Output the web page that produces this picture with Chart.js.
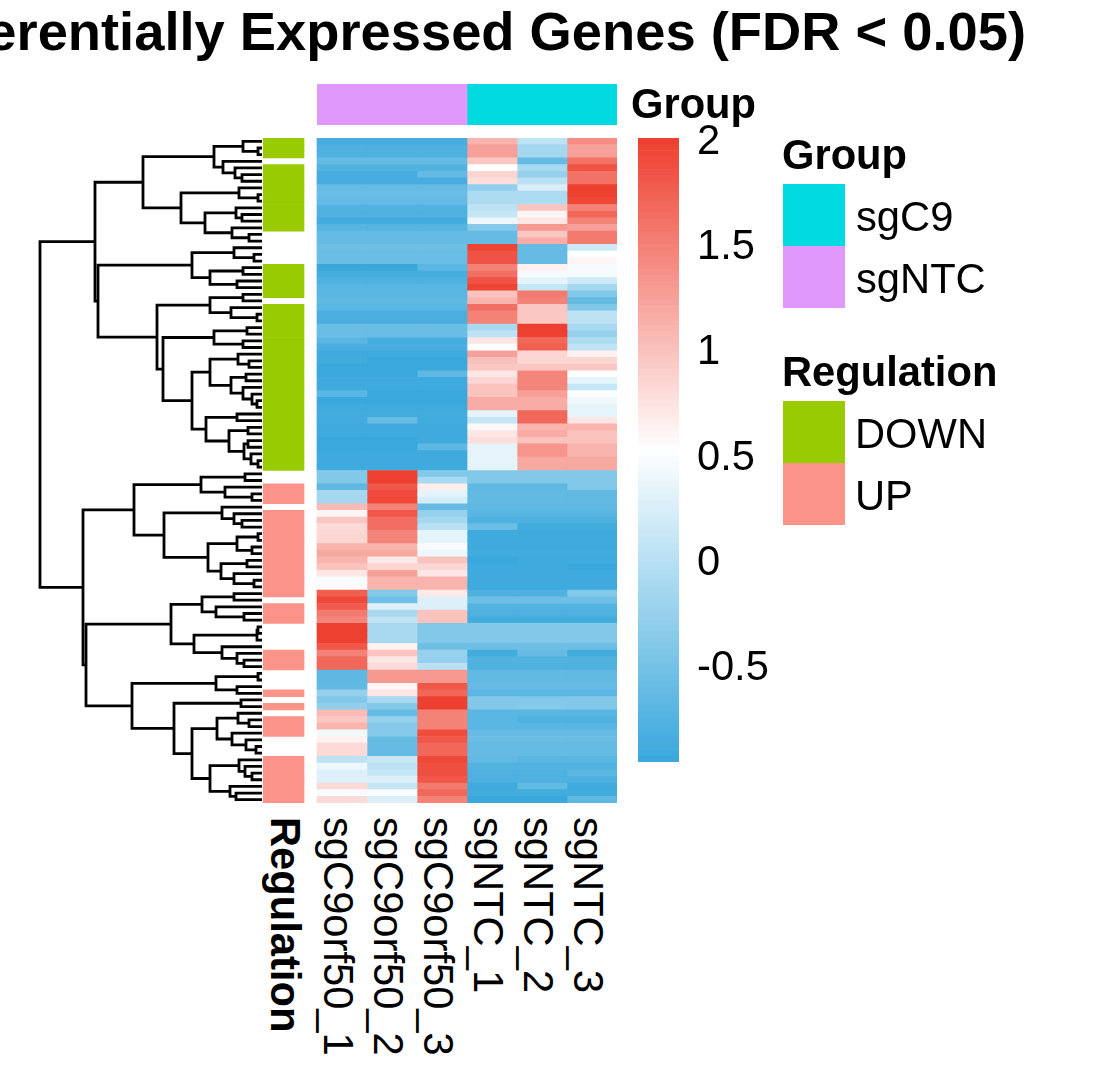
<!DOCTYPE html>
<html>
<head>
<meta charset="utf-8">
<title>Differentially Expressed Genes</title>
<script src="https://cdn.jsdelivr.net/npm/chart.js@4.4.1/dist/chart.umd.min.js"></script>
<style>
  html, body { margin: 0; padding: 0; background: #fff; }
  body { width: 1103px; height: 1084px; position: relative; overflow: hidden;
         font-family: "Liberation Sans", Arial, sans-serif; color: #000; }
  canvas, .txt, .box { position: absolute; }
  .txt { white-space: nowrap; font-size: 41.7px; line-height: 41.7px; }
  .bold { font-weight: bold; }
  .rot { transform-origin: 0 0; transform: rotate(90deg); }
</style>
</head>
<body>

<!-- title runs off the left edge of the page, as in the original figure -->
<div class="txt bold" style="right:77px; top:4.7px; font-size:54.3px; line-height:54.3px;">Differentially Expressed Genes (FDR &lt; 0.05)</div>

<canvas id="dendro" width="240" height="685" style="left:30px; top:128px; width:240px; height:685px;"></canvas>
<canvas id="annot" width="300" height="41" style="left:317px; top:84px; width:300px; height:41px;"></canvas>
<canvas id="heat" width="354" height="665" style="left:263px; top:138px; width:354px; height:665px;"></canvas>
<canvas id="cbar" width="161" height="708" style="left:638px; top:96px; width:161px; height:708px;"></canvas>

<div class="txt bold" style="left:631px; top:83px;">Group</div>

<!-- legends -->
<div class="txt bold" style="left:782px; top:134px;">Group</div>
<div class="box" style="left:783px; top:184px; width:62px; height:62px; background:#00DAE0;"></div>
<div class="box" style="left:783px; top:246px; width:62px; height:62px; background:#E099FA;"></div>
<div class="txt" style="left:856px; top:196.4px;">sgC9</div>
<div class="txt" style="left:856px; top:258px;">sgNTC</div>

<div class="txt bold" style="left:782px; top:351px;">Regulation</div>
<div class="box" style="left:783px; top:401px; width:62px; height:62px; background:#99CC00;"></div>
<div class="box" style="left:783px; top:463px; width:62px; height:62px; background:#FC9389;"></div>
<div class="txt" style="left:855px; top:413.4px;">DOWN</div>
<div class="txt" style="left:855px; top:475.4px;">UP</div>

<div id="collabels"></div>

<script>
// ---- data ----
var sampleNames = ['sgC9orf50_1', 'sgC9orf50_2', 'sgC9orf50_3', 'sgNTC_1', 'sgNTC_2', 'sgNTC_3'];
var sampleGroup = ['sgNTC', 'sgNTC', 'sgNTC', 'sgC9', 'sgC9', 'sgC9'];

// scaled expression, one value per row (rows in dendrogram order)
var valsC9_1 = [
  -0.85,-0.78,-0.78,-0.62,-0.75,-0.85,-0.85,-0.62,-0.6,-0.62,
  -0.77,-0.78,-0.87,-0.74,-0.62,-0.62,-0.55,-0.58,-0.58,-0.95,
  -0.86,-0.8,-0.7,-0.7,-0.68,-0.7,-0.83,-0.83,-0.58,-0.58,
  -0.7,-0.83,-0.9,-0.88,-0.93,-0.95,-0.9,-0.91,-0.7,-0.93,
  -0.91,-0.87,-0.87,-0.92,-0.92,-0.95,-0.95,-0.9,-0.9,-0.9,
  -0.4,-0.42,-0.68,-0.15,-0.15,1.05,0.6,0.95,0.8,0.85,
  0.85,1.1,1.18,1.1,1.0,0.72,0.48,0.53,1.75,1.94,
  1.8,1.55,1.45,2.0,2.0,2.0,1.83,1.5,1.7,1.7,
  -0.68,-0.68,-0.65,-0.25,-0.42,-0.3,1.05,0.95,1.1,0.42,
  0.62,0.8,0.8,0.05,0.4,0.28,0.28,0.8,0.48,0.8
];
var valsC9_2 = [
  -0.85,-0.78,-0.78,-0.62,-0.75,-0.85,-0.85,-0.62,-0.6,-0.62,
  -0.77,-0.78,-0.87,-0.74,-0.62,-0.62,-0.55,-0.58,-0.58,-0.95,
  -0.86,-0.8,-0.7,-0.7,-0.68,-0.7,-0.83,-0.83,-0.58,-0.58,
  -0.86,-0.83,-0.9,-0.97,-0.93,-0.95,-0.9,-0.91,-0.97,-0.93,
  -0.91,-0.87,-0.62,-0.92,-0.92,-0.95,-0.95,-0.9,-0.9,-0.9,
  2.0,2.0,1.83,1.92,1.95,1.5,1.83,1.65,1.65,1.45,
  1.45,1.1,1.18,0.7,0.83,1.25,1.1,1.1,-0.42,-0.55,
  0.27,-0.1,0.08,-0.1,-0.1,-0.1,0.62,1.0,0.72,0.8,
  1.32,1.32,0.6,0.72,-0.1,-0.4,-0.62,-0.25,-0.38,-0.38,
  -0.62,-0.62,-0.62,0.12,0.05,0.1,0.28,0.1,0.48,0.28
];
var valsC9_3 = [
  -0.85,-0.78,-0.78,-0.62,-0.75,-0.62,-0.85,-0.62,-0.6,-0.62,
  -0.77,-0.78,-0.87,-0.74,-0.62,-0.62,-0.55,-0.58,-0.58,-0.7,
  -0.86,-0.8,-0.7,-0.7,-0.68,-0.7,-0.83,-0.83,-0.58,-0.58,
  -0.86,-0.83,-0.9,-0.97,-0.93,-0.68,-0.9,-0.91,-0.97,-0.93,
  -0.91,-0.87,-0.87,-0.92,-0.92,-0.92,-0.68,-0.9,-0.9,-0.9,
  -0.4,-0.1,0.66,0.32,0.22,-0.62,-0.25,-0.15,0.0,0.32,
  0.32,0.48,0.38,1.0,0.83,0.72,1.1,1.1,0.68,0.27,
  0.27,1.0,1.0,-0.4,-0.4,-0.4,-0.55,-0.25,-0.25,0.0,
  1.32,1.32,1.83,1.7,2.0,2.0,1.5,1.5,1.48,1.9,
  1.83,1.7,1.7,1.95,1.88,1.88,1.83,1.55,1.7,1.5
];
var valsNTC_1 = [
  1.1,1.25,1.25,0.95,0.53,0.88,0.78,-0.3,-0.08,-0.08,
  0.05,0.1,0.38,-0.38,-0.62,-0.62,1.97,1.85,1.85,1.5,
  1.63,1.85,1.97,1.0,1.1,1.63,1.48,1.48,-0.1,0.05,
  0.72,0.5,1.25,1.03,0.95,0.72,0.83,1.0,1.0,1.15,
  1.17,0.32,0.1,0.58,0.72,0.77,0.32,0.32,0.32,0.32,
  -0.4,-0.42,-0.68,-0.65,-0.65,-0.67,-0.7,-0.78,-0.58,-0.9,
  -0.9,-0.9,-0.87,-0.95,-0.91,-0.91,-0.91,-0.91,-0.8,-0.55,
  -0.75,-0.78,-0.87,-0.4,-0.4,-0.4,-0.55,-0.87,-0.75,-0.8,
  -0.65,-0.65,-0.62,-0.7,-0.42,-0.42,-0.7,-0.7,-0.7,-0.62,
  -0.58,-0.62,-0.62,-0.65,-0.75,-0.78,-0.78,-0.92,-0.87,-0.95
];
var valsNTC_2 = [
  0.05,-0.15,-0.15,-0.62,-0.1,-0.25,0.0,0.25,-0.08,-0.08,
  1.0,0.6,0.72,1.3,0.97,1.15,-0.62,-0.62,-0.62,0.62,
  0.45,0.32,0.1,1.55,1.5,0.95,0.95,0.95,2.0,2.0,
  1.7,1.75,0.85,0.85,0.95,1.45,1.45,1.45,1.25,1.15,
  1.17,1.7,1.7,1.1,1.15,1.0,1.33,1.33,1.18,1.18,
  -0.4,-0.42,-0.68,-0.65,-0.65,-0.67,-0.7,-0.78,-0.87,-0.9,
  -0.9,-0.9,-0.87,-0.91,-0.91,-0.91,-0.91,-0.91,-0.8,-0.55,
  -0.75,-0.78,-0.87,-0.4,-0.4,-0.4,-0.55,-0.62,-0.75,-0.8,
  -0.65,-0.65,-0.62,-0.7,-0.42,-0.38,-0.7,-0.8,-0.7,-0.62,
  -0.58,-0.62,-0.62,-0.7,-0.75,-0.78,-0.78,-0.65,-0.87,-0.95
];
var valsNTC_3 = [
  1.4,1.25,1.25,1.6,1.85,1.6,1.6,2.0,2.0,1.95,
  1.5,1.7,1.5,1.25,1.55,1.55,0.15,0.5,0.6,0.45,
  0.45,0.15,-0.15,-0.4,-0.62,-0.4,0.05,0.05,-0.1,-0.27,
  -0.08,0.08,0.62,0.85,0.95,0.5,0.32,0.1,0.5,0.42,
  0.32,0.32,0.72,1.1,1.0,1.0,1.1,1.1,1.18,1.18,
  -0.4,-0.42,-0.42,-0.65,-0.65,-0.67,-0.7,-0.78,-0.87,-0.9,
  -0.9,-0.9,-0.87,-0.91,-0.95,-0.91,-0.91,-0.91,-0.42,-0.55,
  -0.75,-0.78,-0.87,-0.4,-0.4,-0.4,-0.55,-0.87,-0.75,-0.8,
  -0.65,-0.65,-0.62,-0.7,-0.42,-0.42,-0.7,-0.8,-0.7,-0.62,
  -0.58,-0.62,-0.62,-0.7,-0.75,-0.7,-0.78,-0.92,-0.87,-0.68
];

// row annotation (null = not annotated)
var D = 'DOWN', U = 'UP', N = null;
var regulation = [
  D,D,D,N,D,D,D,D,D,D, D,D,D,D,N,N,N,N,N,D, D,D,D,D,N,D,D,D,D,D,
  D,D,D,D,D,D,D,D,D,D, D,D,D,D,D,D,D,D,D,D,
  N,N,U,U,U,N,U,U,U,U, U,U,U,U,U,U,U,U,U,N, U,U,U,N,N,N,N,U,U,U,
  N,N,N,U,N,U,N,U,U,U, N,N,N,U,U,U,U,U,U,U
];

// row dendrogram: [height, left, right], leaves are row numbers
var rowTree = [222,
  [167,
    [119,
      [48, [19, 0, [4, 1, 2]], [39, 3, [27, 4, [20, 5, 6]]]],
      [81, [23, 7, [4, 8, 9]], [57, [26, 10, [20, 11, 12]], [30, 13, [13, 14, 15]]]]],
    [164,
      [70, [28, 16, [8, 17, 18]], [52, [19, 19, 20], [25, 21, 22]]],
      [105,
        [52, [19, 23, 24], [31, 25, [5, 26, 27]]],
        [99,
          [48, [15, 28, 29], [19, 30, 31]],
          [70,
            [52, [24, 32, [13, 33, 34]], [31, [16, 35, 36], [19, 37, [10, 38, [5, 39, 40]]]]],
            [56, [25, 41, 42], [33, [14, 43, 44], [18, [14, 45, 46], [11, 47, [4, 48, 49]]]]]]]]]],
  [179,
    [128,
      [61, [17, 50, 51], [37, 52, [10, 53, 54]]],
      [98, [40, 55, [28, 56, [20, 57, 58]]],
           [54, [25, [4, 59, 60], [10, 61, 62]], [41, [15, 63, 64], [28, 65, [8, 66, 67]]]]]],
    [176,
      [91, [60, [28, 68, 69], [46, 70, [18, 71, 72]]],
           [68, [5, [4, 73, 74], 75], [40, 76, [25, 77, [18, 78, 79]]]]],
      [130, [46, [4, 80, 81], [25, 82, 83]],
            [88, [21, 84, 85],
                 [70, [45, [24, 86, [13, 87, 88]], [30, 89, [16, 90, [6, 91, 92]]]],
                      [52, [23, 93, [17, 94, [10, 95, 96]]], [32, 97, [26, 98, 99]]]]]]]]
];

var colorTicks = [-0.5, 0, 0.5, 1, 1.5, 2];
var colorMin = -0.956, colorMax = 2.01;

// ---- styles ----
var FONT = '"Liberation Sans", Arial, sans-serif';
var FONT_SIZE = 41.7;
var groupColors = { sgC9: '#00DAE0', sgNTC: '#E099FA' };
var regColors = { DOWN: '#99CC00', UP: '#FC9389' };
var lowCol = [58, 168, 220], midCol = [255, 255, 255], highCol = [238, 64, 48];
var nColors = 100;

var heatValues = [valsC9_1, valsC9_2, valsC9_3, valsNTC_1, valsNTC_2, valsNTC_3];
var rowIds = valsC9_1.map(function (v, i) { return 'gene' + (i + 1); });

function mix(a, b, t) {
  return 'rgb(' + a.map(function (c, k) { return Math.round(c + (b[k] - c) * t); }).join(',') + ')';
}
function ramp(t) {
  return t < 0.5 ? mix(lowCol, midCol, t * 2) : mix(midCol, highCol, (t - 0.5) * 2);
}
var palette = [];
var breaks = [];
for (var i = 0; i < nColors; i++) palette.push(ramp(i / (nColors - 1)));
for (var i = 0; i <= nColors; i++) breaks.push(colorMin + (colorMax - colorMin) * i / nColors);

function colorFor(v) {
  var k = Math.floor((v - colorMin) / (colorMax - colorMin) * nColors);
  return palette[Math.max(0, Math.min(nColors - 1, k))];
}

var common = {
  responsive: false,
  animation: false,
  events: [],
  plugins: { legend: { display: false }, tooltip: { enabled: false } }
};
function opts(extra) { return Object.assign({}, common, extra); }

// ---- dendrogram ----
var segments = [];
function place(node) {
  if (typeof node === 'number') return { y: node, h: 0 };
  var l = place(node[1]), r = place(node[2]);
  segments.push([{ x: l.h, y: l.y }, { x: node[0], y: l.y }, { x: node[0], y: r.y }, { x: r.h, y: r.y }]);
  return { y: (l.y + r.y) / 2, h: node[0] };
}
place(rowTree);

new Chart(document.getElementById('dendro'), {
  type: 'scatter',
  data: {
    datasets: segments.map(function (pts) {
      return { data: pts, showLine: true, borderColor: '#000', borderWidth: 2.8,
               pointRadius: 0, clip: 8 };
    })
  },
  options: opts({
    layout: { padding: { left: 10, right: 8, top: 10, bottom: 10 } },
    scales: {
      x: { type: 'linear', min: 0, max: 222, reverse: true, display: false },
      y: { type: 'linear', min: -0.5, max: rowIds.length - 0.5, reverse: true, display: false }
    }
  })
});

// ---- heatmap + row annotation ----
var regStart = -1.08, regEnd = -0.26;
var heatSets = [{
  data: regulation.map(function () { return [regStart, regEnd]; }),
  backgroundColor: regulation.map(function (r) { return r ? regColors[r] : 'rgba(0,0,0,0)'; })
}];
heatValues.forEach(function (vals, c) {
  heatSets.push({
    data: vals.map(function () { return [c, c + 1]; }),
    backgroundColor: vals.map(colorFor)
  });
});

var barOpts = { bar: { grouped: false, barPercentage: 1, categoryPercentage: 1, borderWidth: 0 } };

new Chart(document.getElementById('heat'), {
  type: 'bar',
  data: { labels: rowIds, datasets: heatSets },
  options: opts({
    indexAxis: 'y',
    layout: { padding: 0 },
    datasets: barOpts,
    scales: {
      x: { type: 'linear', min: regStart, max: sampleNames.length, display: false },
      y: { display: false }
    }
  })
});

// ---- column annotation ----
new Chart(document.getElementById('annot'), {
  type: 'bar',
  data: {
    labels: ['Group'],
    datasets: sampleGroup.map(function (g, c) {
      return { data: [[c, c + 1]], backgroundColor: groupColors[g] };
    })
  },
  options: opts({
    indexAxis: 'y',
    layout: { padding: 0 },
    datasets: barOpts,
    scales: {
      x: { type: 'linear', min: 0, max: sampleNames.length, display: false },
      y: { display: false }
    }
  })
});

// ---- colour key ----
new Chart(document.getElementById('cbar'), {
  type: 'bar',
  data: {
    labels: ['key'],
    datasets: palette.map(function (col, k) {
      return { data: [[breaks[k], breaks[k + 1]]], backgroundColor: col };
    })
  },
  options: opts({
    layout: { padding: { top: 42, bottom: 42, left: 0, right: 0 } },
    datasets: barOpts,
    scales: {
      x: { display: false },
      y: {
        position: 'right', min: colorMin, max: colorMax,
        grid: { display: false, drawTicks: false },
        border: { display: false },
        ticks: { padding: 18, labelOffset: 2.5, color: '#000', font: { family: FONT, size: FONT_SIZE },
                 callback: function (v) { return String(v); } },
        afterBuildTicks: function (s) { s.ticks = colorTicks.map(function (v) { return { value: v }; }); },
        afterFit: function (s) { s.width = 120; s.paddingTop = 0; s.paddingBottom = 0; }
      }
    }
  })
});

// ---- rotated column labels ----
var holder = document.getElementById('collabels');
function addRotLabel(text, capCenter, bold) {
  var d = document.createElement('div');
  d.className = 'txt rot' + (bold ? ' bold' : '');
  d.style.left = (capCenter + 20.4) + 'px';
  d.style.top = '817px';
  d.textContent = text;
  holder.appendChild(d);
}
addRotLabel('Regulation', 285.5, true);
sampleNames.forEach(function (name, c) { addRotLabel(name, 317 + 50 * c + 25 - 3, false); });
</script>
</body>
</html>
